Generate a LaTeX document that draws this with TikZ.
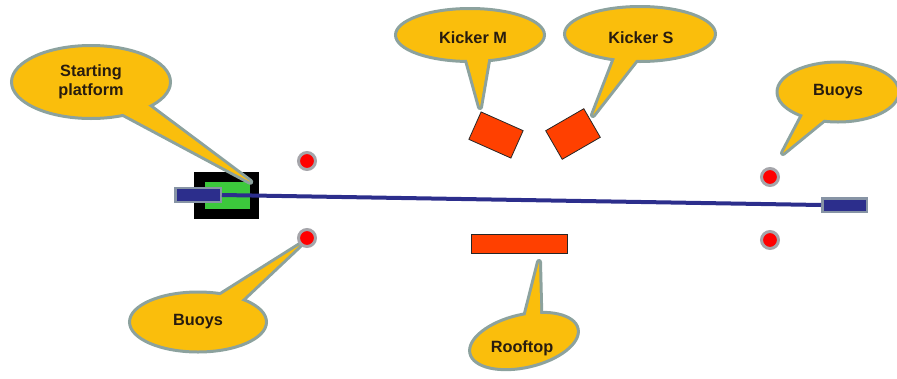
\documentclass[tikz,border=0pt]{standalone}
\usepackage{fontspec}
\setmainfont{Liberation Sans}
\usetikzlibrary{shapes.geometric,calc}
\pgfdeclarelayer{background}
\pgfsetlayers{background,main}
\definecolor{cyel}{RGB}{250,190,12}
\definecolor{cbord}{RGB}{140,162,158}
\definecolor{ctxt}{RGB}{40,28,15}
\definecolor{kred}{RGB}{255,64,0}
\definecolor{navyline}{RGB}{44,46,140}
\definecolor{pgreen}{RGB}{60,200,60}
\definecolor{bgray}{RGB}{135,148,165}
\definecolor{buoyring}{RGB}{165,165,170}
\newcommand\ctail[3]{%
  \begin{pgfonlayer}{background}
    \filldraw[fill=cyel,draw=cbord,line width=6pt,line join=round] #1 -- #2 -- #3 -- cycle;
  \end{pgfonlayer}
  \fill[cyel] #1 -- #2 -- #3 -- cycle;}
\begin{document}
\begin{tikzpicture}[x=1pt,y=-1pt,
  callout/.style={ellipse, fill=cyel, draw=cbord, line width=3pt, inner sep=0pt},
  ctext/.style={font=\bfseries\fontsize{16.3}{19}\selectfont, text=ctxt, align=center},
  kicker/.style={rectangle, fill=kred, draw=black!85, line width=0.8pt, inner sep=0pt},
  buoy/.style={circle, fill=red, draw=buoyring, line width=3pt, minimum size=17pt, inner sep=0pt},
  bluebar/.style={rectangle, fill=navyline, draw=bgray, line width=2.5pt, inner sep=0pt}]
\useasboundingbox (0,0) rectangle (897,378);

% starting platform (ground)
\begin{pgfonlayer}{background}
  \node[rectangle, fill=black, inner sep=0pt, minimum width=65pt, minimum height=47pt] (pf) at (226.5,195.5) {};
  \node[rectangle, fill=pgreen, inner sep=0pt, minimum width=45pt, minimum height=27pt] (pg) at (227.5,195.5) {};
\end{pgfonlayer}

% callouts
\node[callout, ctext, minimum width=159pt, minimum height=73pt] (cS) at (91,82) {Starting\\platform};
\ctail{($(cS.-46)!6pt!(cS.center)$)}{(pg.north east)}{($(cS.-22)!6pt!(cS.center)$)}

\node[callout, minimum width=149pt, minimum height=53pt] (cM) at (470,35) {};
\node[ctext] (tM) at (473,38) {Kicker M};
\node[callout, minimum width=151pt, minimum height=55pt] (cK) at (640,34) {};
\node[ctext] (tK) at (641,38) {Kicker S};
\node[callout, ctext, minimum width=122pt, minimum height=60pt] (cB1) at (838,92) {Buoys};
\node[callout, ctext, minimum width=137pt, minimum height=60pt] (cB2) at (198,322) {Buoys};
\node[callout, rotate=13, minimum width=111pt, minimum height=53pt] (cR) at (524,341) {};
\node[ctext] (tR) at (522,348) {Rooftop};

% kickers, rooftop
\node[kicker, rotate=-24, minimum width=46pt, minimum height=30pt] (km) at (496,135) {};
\node[kicker, rotate=30, minimum width=44pt, minimum height=33pt] (ks) at (573,134) {};
\node[kicker, minimum width=96pt, minimum height=19pt] (rt) at (519,243.5) {};

% buoys
\node[buoy] (b1) at (307,161) {};
\node[buoy] (b2) at (307,238) {};
\node[buoy] (b3) at (770,177) {};
\node[buoy] (b4) at (770,240) {};

% tails
\coordinate (tipM) at (480,107);
\coordinate (tipK) at (593,115);
\coordinate (tipB1) at (783,153);
\coordinate (tipR) at (539,262);
\ctail{($(cM.-100)!6pt!(cM.center)$)}{(tipM)}{($(cM.-50)!6pt!(cM.center)$)}
\ctail{($(cK.-137)!6pt!(cK.center)$)}{(tipK)}{($(cK.-94)!6pt!(cK.center)$)}
\ctail{($(cB1.-148)!6pt!(cB1.center)$)}{(tipB1)}{($(cB1.-114)!6pt!(cB1.center)$)}
\ctail{($(cB2.52)!6pt!(cB2.center)$)}{(b2.south west)}{($(cB2.26)!6pt!(cB2.center)$)}
\ctail{($(cR.75)!6pt!(cR.center)$)}{(tipR)}{($(cR.44)!6pt!(cR.center)$)}

% course line and bars
\node[bluebar, minimum width=45.5pt, minimum height=14pt] (sb) at (198,195) {};
\node[bluebar, minimum width=44.5pt, minimum height=13.5pt] (eb) at (844.5,205) {};
\draw[navyline, line width=4pt] (sb.east) -- (eb.west);
\end{tikzpicture}
\end{document}
